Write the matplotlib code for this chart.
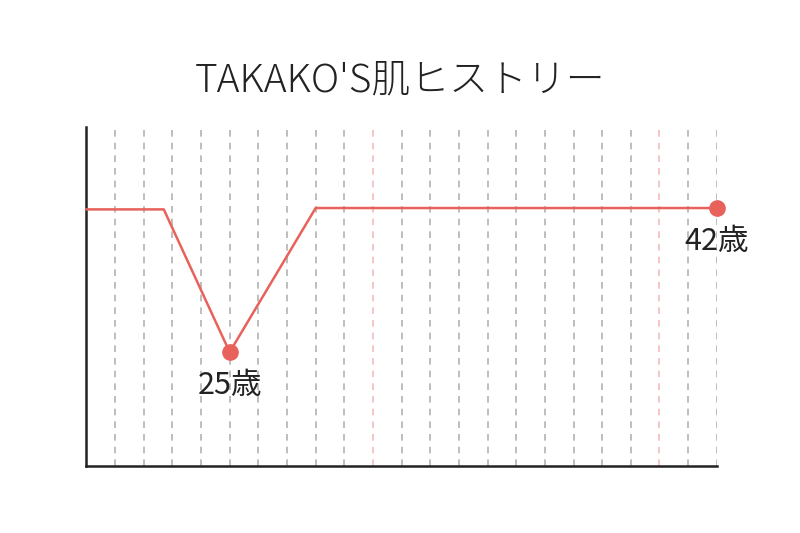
import matplotlib
matplotlib.use("Agg")
import matplotlib.pyplot as plt

plt.rcParams["font.family"] = ["Noto Sans CJK JP", "DejaVu Sans"]

# skin condition over the years (arbitrary 0-100 scale)
ages = [20, 22.7, 25, 28, 42]
condition = [75.7, 75.7, 33.6, 76.1, 76.1]
grid_ages = list(range(21, 43))
accent_ages = [30, 40]
marked_ages = [25, 42]
marked_values = [33.6, 76.1]
marked_labels = ["25歳", "42歳"]
title = "TAKAKO'S肌ヒストリー"

RED = "#e8625b"

fig = plt.figure(figsize=(8, 5.33), dpi=100)
ax = fig.add_axes([0.108, 0.1257, 0.788, 0.636])

for a in grid_ages:
    color = "#f4bcbc" if a in accent_ages else "#b3b3b3"
    ax.axvline(a, color=color, lw=1.2, ls=(0, (4, 3.6)), zorder=1)

ax.plot(ages, condition, color=RED, lw=1.8, zorder=3, clip_on=False)
ax.plot(marked_ages, marked_values, "o", color=RED, ms=11, zorder=4, clip_on=False)

for a, v, lab in zip(marked_ages, marked_values, marked_labels):
    ax.annotate(lab, (a, v), xytext=(0, -13), textcoords="offset points",
                ha="center", va="top", fontsize=22, color="#222222")

ax.set_xlim(20, 42)
ax.set_ylim(0, 100)
ax.set_xticks([])
ax.set_yticks([])
for side in ("top", "right"):
    ax.spines[side].set_visible(False)
for side in ("left", "bottom"):
    ax.spines[side].set_linewidth(1.8)
    ax.spines[side].set_color("#222222")

fig.text(0.5, 0.849, title, ha="center", va="center", fontsize=28,
         fontweight="light", color="#222222")

fig.savefig("out.png", dpi=100)
